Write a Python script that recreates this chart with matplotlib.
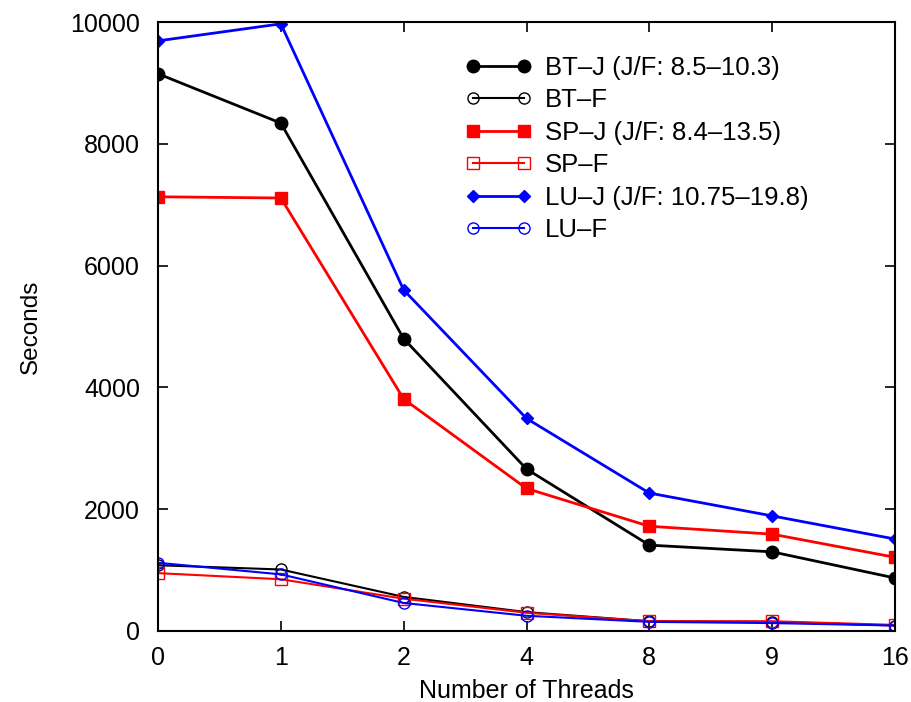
import matplotlib
matplotlib.use('Agg')
import matplotlib.pyplot as plt
import numpy as np

threads = ['0', '1', '2', '4', '8', '9', '16']

bt_j = [9150, 8340, 4800, 2660, 1410, 1300, 870]
bt_f = [1080, 1010, 560, 310, 160, 150, 90]
sp_j = [7130, 7110, 3810, 2340, 1720, 1590, 1210]
sp_f = [950, 850, 530, 300, 160, 160, 100]
lu_j = [9690, 9970, 5600, 3490, 2265, 1890, 1510]
lu_f = [1120, 930, 460, 250, 150, 130, 90]

plt.rcParams['font.family'] = ['Liberation Sans', 'DejaVu Sans']

fig = plt.figure(figsize=(9.11, 7.02), dpi=100)
ax = fig.add_axes([158/911, 71/702, 737/911, 609/702])
x = np.arange(len(threads))

ax.plot(x, bt_j, '-o', color='black', lw=2, ms=9, label='BT\u2013J (J/F: 8.5\u201310.3)')
ax.plot(x, bt_f, '-o', color='black', lw=1.5, ms=8, mfc='none', label='BT\u2013F')
ax.plot(x, sp_j, '-s', color='red', lw=2, ms=8, label='SP\u2013J (J/F: 8.4\u201313.5)')
ax.plot(x, sp_f, '-s', color='red', lw=1.5, ms=8, mfc='none', label='SP\u2013F')
ax.plot(x, lu_j, '-D', color='blue', lw=2, ms=6, label='LU\u2013J (J/F: 10.75\u201319.8)')
ax.plot(x, lu_f, '-o', color='blue', lw=1.5, ms=8, mfc='none', label='LU\u2013F')

ax.set_xlim(0, 6)
ax.set_ylim(0, 10000)
ax.set_xticks(x)
ax.set_xticklabels(threads)
ax.set_yticks(np.arange(0, 10001, 2000))
ax.tick_params(direction='in', top=True, right=True, labelsize=18, length=7, width=1.2)
ax.tick_params(axis='y', pad=13)
ax.tick_params(axis='x', pad=11)
for s in ax.spines.values():
    s.set_linewidth(1.5)
ax.set_xlabel('Number of Threads', fontsize=18, labelpad=6)
ax.set_ylabel('Seconds', fontsize=17.5, labelpad=20)

ax.legend(loc='upper left', bbox_to_anchor=(465/911, 1 - 56/702), bbox_transform=fig.transFigure,
          frameon=False, fontsize=18.5, borderpad=0, borderaxespad=0,
          numpoints=2, handlelength=2.6, labelspacing=0.33, handletextpad=0.5)

plt.savefig('out.png', dpi=100)
